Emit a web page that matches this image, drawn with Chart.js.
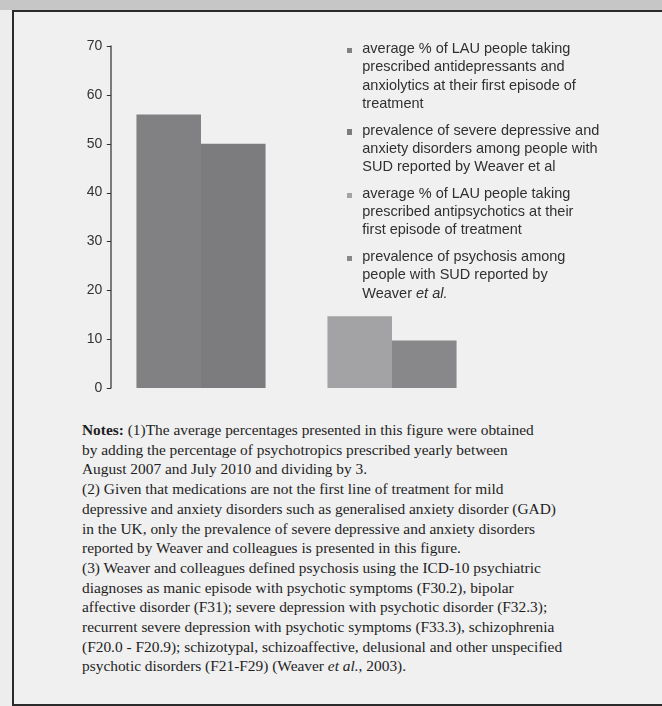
<!DOCTYPE html>
<html>
<head>
<meta charset="utf-8">
<script src="https://cdn.jsdelivr.net/npm/chart.js@4"></script>
<style>
html,body{margin:0;padding:0;}
body{width:662px;height:706px;overflow:hidden;position:relative;background:#ededed;}
#strip{position:absolute;left:0;top:0;width:662px;height:10px;background:#c6c6c6;}
#frame{position:absolute;left:12px;top:10px;width:700px;height:692px;border:2px solid #2b2b2b;border-right:none;background:#f0f0f0;}
#chartWrap{position:absolute;left:0;top:0;width:662px;height:400px;}
#legend{position:absolute;left:345px;top:39px;font-family:"Liberation Sans",Arial,sans-serif;font-size:14.5px;line-height:18.3px;color:#303030;}
.item{position:relative;padding-left:17.3px;margin-bottom:8.4px;white-space:nowrap;}
.sw{position:absolute;left:1.7px;top:8.7px;width:5.5px;height:5.5px;}
#notes{position:absolute;left:82px;top:420px;font-family:"Liberation Serif","Times New Roman",serif;font-size:15.4px;line-height:19.7px;color:#1e1e1e;white-space:nowrap;}
</style>
</head>
<body>
<div id="strip"></div>
<div id="frame"></div>
<div id="chartWrap"><canvas id="c" width="662" height="400"></canvas></div>
<div id="legend"></div>
<div id="notes"></div>
<script>
// ---- data ----
const categories = ['Depression and anxiety', 'Psychosis'];
const lauAntidepressants = [56, null];
const weaverDepressionAnxiety = [50, null];
const lauAntipsychotics = [null, 14.7];
const weaverPsychosis = [null, 9.7];
const yTicks = [0, 10, 20, 30, 40, 50, 60, 70];

const legendLines = [
  ['average % of LAU people taking', 'prescribed antidepressants and', 'anxiolytics at their first episode of', 'treatment'],
  ['prevalence of severe depressive and', 'anxiety disorders among people with', 'SUD reported by Weaver et al'],
  ['average % of LAU people taking', 'prescribed antipsychotics at their', 'first episode of treatment'],
  ['prevalence of psychosis among', 'people with SUD reported by', 'Weaver <i>et al.</i>']
];
const seriesColors = ['#818184', '#7c7c7f', '#a3a3a5', '#88888a'];
const seriesValues = [lauAntidepressants, weaverDepressionAnxiety, lauAntipsychotics, weaverPsychosis];

const notesLines = [
  '<b>Notes:</b> (1)The average percentages presented in this figure were obtained',
  'by adding the percentage of psychotropics prescribed yearly between',
  'August 2007 and July 2010 and dividing by 3.',
  '(2) Given that medications are not the first line of treatment for mild',
  'depressive and anxiety disorders such as generalised anxiety disorder (GAD)',
  'in the UK, only the prevalence of severe depressive and anxiety disorders',
  'reported by Weaver and colleagues is presented in this figure.',
  '(3) Weaver and colleagues defined psychosis using the ICD-10 psychiatric',
  'diagnoses as manic episode with psychotic symptoms (F30.2), bipolar',
  'affective disorder (F31); severe depression with psychotic disorder (F32.3);',
  'recurrent severe depression with psychotic symptoms (F33.3), schizophrenia',
  '(F20.0 - F20.9); schizotypal, schizoaffective, delusional and other unspecified',
  'psychotic disorders (F21-F29) (Weaver <i>et al.</i>, 2003).'
];

// ---- chart ----
const strip = s => s.replace(/<[^>]+>/g, '');
const datasets = seriesValues.map((vals, i) => ({
  label: strip(legendLines[i].join(' ')),
  data: vals,
  backgroundColor: seriesColors[i],
  borderWidth: 0,
  skipNull: true,
  barPercentage: 1.0,
  categoryPercentage: 0.676
}));

// y axis line + tick marks, drawn slightly inside the plot edge (as in the original figure)
const axisInset = 5.5;
const yAxisLine = {
  id: 'yAxisLine',
  afterDraw(chart) {
    const s = chart.scales.y, ctx = chart.ctx;
    const x = chart.chartArea.left + axisInset;
    ctx.save();
    ctx.strokeStyle = '#2e2e2e';
    ctx.lineWidth = 1.2;
    ctx.beginPath();
    ctx.moveTo(x, s.getPixelForValue(s.max) - 0.5);
    ctx.lineTo(x, s.getPixelForValue(s.min) + 0.5);
    s.ticks.forEach(t => {
      const y = Math.round(s.getPixelForValue(t.value)) + 0.5;
      ctx.moveTo(x - 4.2, y);
      ctx.lineTo(x, y);
    });
    ctx.stroke();
    ctx.restore();
  }
};

new Chart(document.getElementById('c'), {
  type: 'bar',
  data: { labels: categories, datasets },
  options: {
    responsive: false,
    animation: false,
    devicePixelRatio: 1,
    layout: { padding: { top: 46, bottom: 12, left: 0, right: 174.5 } },
    plugins: { legend: { display: false }, tooltip: { enabled: false } },
    scales: {
      x: { display: false, offset: true, grid: { display: false } },
      y: {
        min: yTicks[0], max: yTicks[yTicks.length - 1],
        afterBuildTicks: s => { s.ticks = yTicks.map(v => ({ value: v })); },
        afterFit: s => { s.width = 105.5; },
        grid: { display: false, drawOnChartArea: false, drawTicks: false },
        border: { display: false },
        ticks: { padding: 3.2, color: '#333333', font: { family: '"Liberation Sans", Arial, sans-serif', size: 14 } }
      }
    }
  },
  plugins: [yAxisLine]
});

// ---- legend ----
const lg = document.getElementById('legend');
legendLines.forEach((lines, i) => {
  const d = document.createElement('div');
  d.className = 'item';
  d.innerHTML = '<span class="sw" style="background:' + seriesColors[i] + '"></span>' + lines.join('<br>');
  lg.appendChild(d);
});

document.getElementById('notes').innerHTML = notesLines.join('<br>');
</script>
</body>
</html>
